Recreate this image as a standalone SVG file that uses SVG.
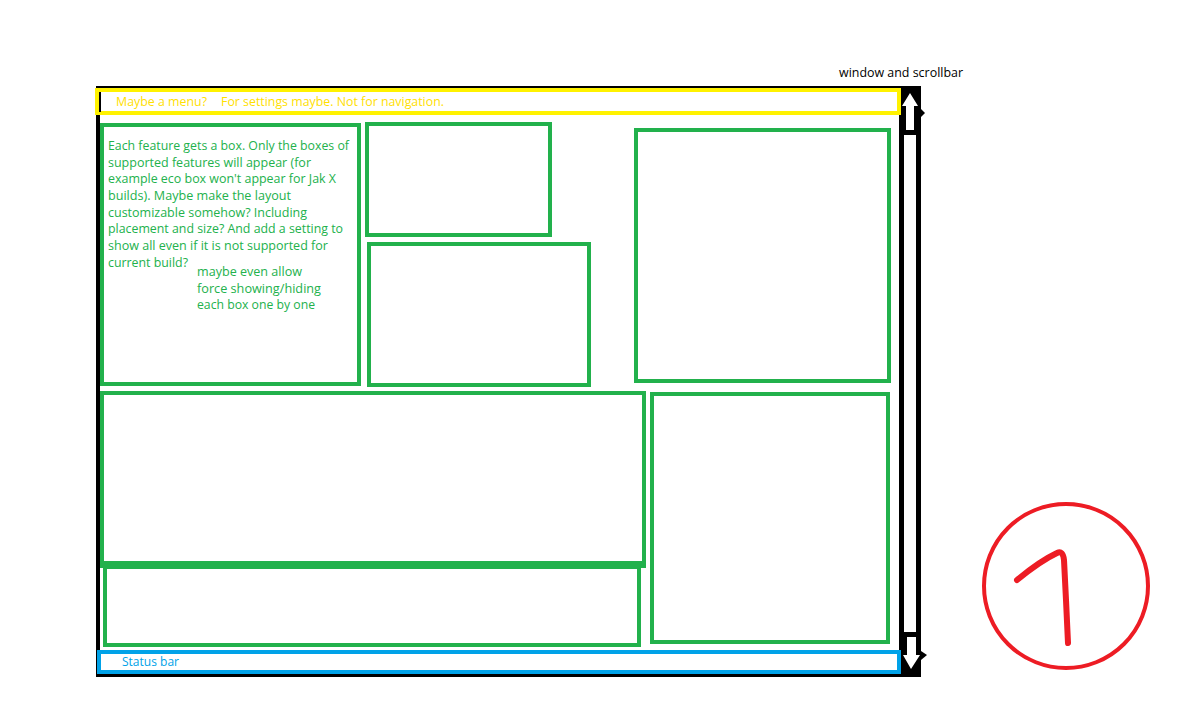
<svg xmlns="http://www.w3.org/2000/svg" width="1200" height="722" viewBox="0 0 1200 722">
<style>
.g{fill:none;stroke:#22B14C;stroke-width:4}
.gt{font-family:"Open Sans","Liberation Sans",sans-serif;font-size:12.5px;fill:#22B14C}
.yt{font-family:"Open Sans","Liberation Sans",sans-serif;font-size:12.5px;fill:#FFE000}
.bt{font-family:"Open Sans","Liberation Sans",sans-serif;font-size:12.5px;fill:#00A2E8}
.kt{font-family:"Open Sans","Liberation Sans",sans-serif;font-size:12.5px;fill:#000}
</style>
<rect x="0" y="0" width="1200" height="722" fill="#fff"/>
<g id="window">
  <rect x="96" y="86" width="825" height="2" fill="#000"/>
  <rect x="96" y="86" width="4" height="591" fill="#000"/>
  <rect x="96" y="673" width="825" height="4" fill="#000"/>
  <text class="kt" x="839" y="77" textLength="124" lengthAdjust="spacingAndGlyphs">window and scrollbar</text>
</g>
<g id="scrollbar">
  <rect x="899" y="87" width="22" height="590" fill="#000"/>
  <rect x="904" y="135" width="12" height="497" fill="#fff"/>
  <polygon points="910,93 918,106 914,106 914,130 906,130 906,106 902,106" fill="#fff"/>
  <polygon points="907,637 916,637 916,655 920,655 911,669 903,655 907,655" fill="#fff"/>
  <polygon points="921,109 925,113 921,117" fill="#000"/>
  <polygon points="921,651 927,655 921,660" fill="#000"/>
</g>
<g id="menu">
  <rect x="97" y="90" width="802" height="23" fill="none" stroke="#FFF200" stroke-width="4"/>
  <rect x="99" y="92" width="2" height="20" fill="#000"/>
  <text class="yt" x="116" y="106" textLength="91" lengthAdjust="spacingAndGlyphs">Maybe a menu?</text>
  <text class="yt" x="221" y="106" textLength="223" lengthAdjust="spacingAndGlyphs">For settings maybe. Not for navigation.</text>
</g>
<g id="box-text">
  <rect class="g" x="102" y="125" width="257" height="259"/>
  <text class="gt" x="108" y="150" textLength="241" lengthAdjust="spacingAndGlyphs">Each feature gets a box. Only the boxes of</text>
  <text class="gt" x="108" y="167" textLength="203" lengthAdjust="spacingAndGlyphs">supported features will appear (for</text>
  <text class="gt" x="108" y="183" textLength="228" lengthAdjust="spacingAndGlyphs">example eco box won't appear for Jak X</text>
  <text class="gt" x="108" y="200" textLength="183" lengthAdjust="spacingAndGlyphs">builds). Maybe make the layout</text>
  <text class="gt" x="108" y="217" textLength="199" lengthAdjust="spacingAndGlyphs">customizable somehow? Including</text>
  <text class="gt" x="108" y="233" textLength="235" lengthAdjust="spacingAndGlyphs">placement and size? And add a setting to</text>
  <text class="gt" x="108" y="250" textLength="220" lengthAdjust="spacingAndGlyphs">show all even if it is not supported for</text>
  <text class="gt" x="108" y="267" textLength="80" lengthAdjust="spacingAndGlyphs">current build?</text>
  <text class="gt" x="197" y="276" textLength="105" lengthAdjust="spacingAndGlyphs">maybe even allow</text>
  <text class="gt" x="197" y="293" textLength="124" lengthAdjust="spacingAndGlyphs">force showing/hiding</text>
  <text class="gt" x="197" y="309" textLength="118" lengthAdjust="spacingAndGlyphs">each box one by one</text>
</g>
<g id="box-top-middle"><rect class="g" x="367" y="124" width="183" height="111"/></g>
<g id="box-middle"><rect class="g" x="369" y="244" width="220" height="141"/></g>
<g id="box-top-right"><rect class="g" x="636" y="130" width="253" height="251"/></g>
<g id="box-wide"><rect class="g" x="102" y="393" width="542" height="170"/><rect x="100" y="561" width="546" height="7" fill="#22B14C"/></g>
<g id="box-bottom-left"><rect class="g" x="105" y="567" width="534" height="78"/></g>
<g id="box-bottom-right"><rect class="g" x="652" y="394" width="236" height="248"/></g>
<g id="statusbar">
  <rect x="99" y="652" width="800" height="20" fill="none" stroke="#00A2E8" stroke-width="4"/>
  <text class="bt" x="122" y="666" textLength="57" lengthAdjust="spacingAndGlyphs">Status bar</text>
</g>
<g id="page-number">
  <circle cx="1066" cy="586" r="82" fill="none" stroke="#ED1C24" stroke-width="4"/>
  <path d="M1017,580 Q1040,561 1057,553 Q1063,550 1064,560 L1066,600 L1068,643" fill="none" stroke="#ED1C24" stroke-width="6" stroke-linecap="round" stroke-linejoin="round"/>
</g>
<g id="connectors"/>
</svg>
